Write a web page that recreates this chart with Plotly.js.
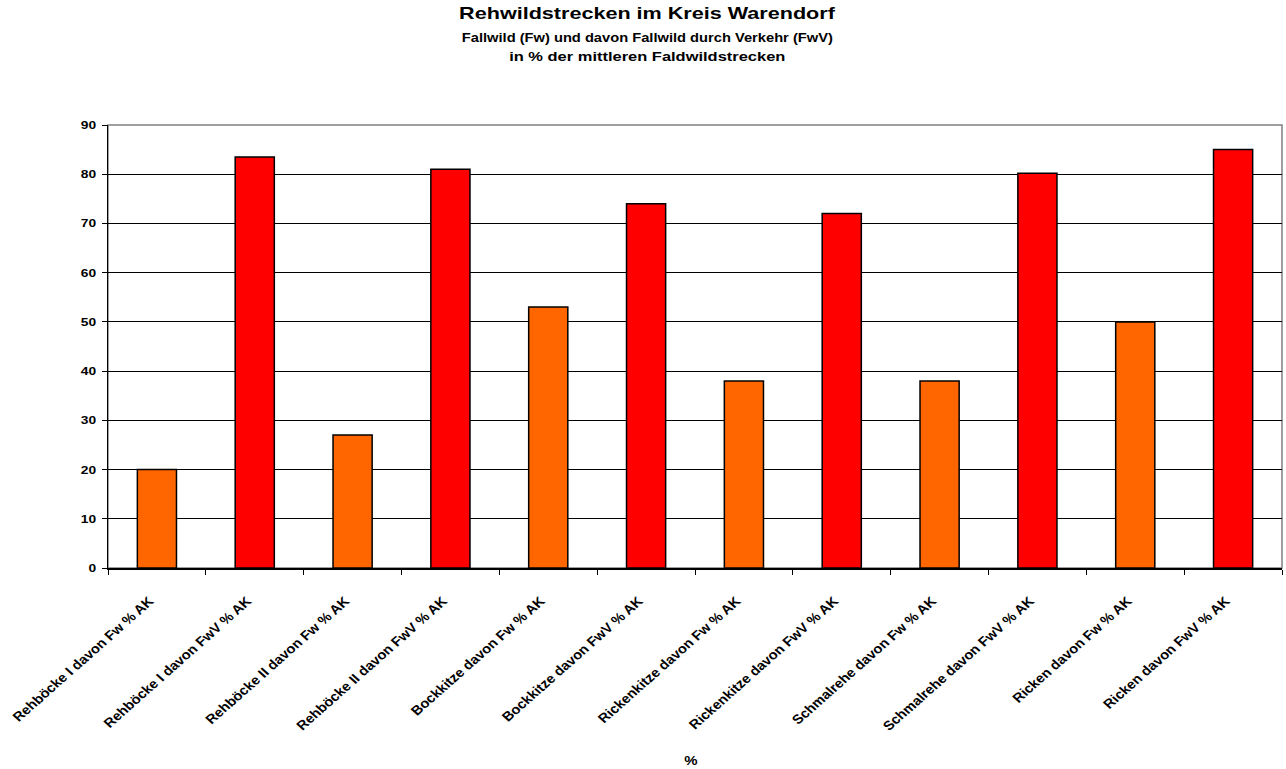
<!DOCTYPE html>
<html>
<head>
<meta charset="utf-8">
<script src="https://cdn.plot.ly/plotly-3.0.1.min.js"></script>
<style>
  html, body { margin: 0; padding: 0; background: #ffffff; }
  #chart { width: 1286px; height: 769px; }
</style>
</head>
<body>
<div id="chart"></div>
<script>
// Kategorien (Altersklassen, jeweils Fallwild und davon Verkehr)
var categories = [
  "Rehböcke I davon Fw % AK",
  "Rehböcke I davon FwV % AK",
  "Rehböcke II davon Fw % AK",
  "Rehböcke II davon FwV % AK",
  "Bockkitze davon Fw % AK",
  "Bockkitze davon FwV % AK",
  "Rickenkitze davon Fw % AK",
  "Rickenkitze davon FwV % AK",
  "Schmalrehe davon Fw % AK",
  "Schmalrehe davon FwV % AK",
  "Ricken davon Fw % AK",
  "Ricken davon FwV % AK"
];

// Anteile in %
var values = [20, 83.5, 27, 81, 53, 74, 38, 72, 38, 80.2, 50, 85];

// Farben: Fallwild orange, Fallwild durch Verkehr rot
var colorFw = "#FF6600";
var colorFwV = "#FF0000";
var barColors = categories.map(function (c) {
  return c.indexOf("FwV") >= 0 ? colorFwV : colorFw;
});

var font = "Liberation Sans, Arial, Helvetica, sans-serif";
var headerX = 647; // horizontale Mitte der Überschriften (px)

var trace = {
  type: "bar",
  x: categories,
  y: values,
  marker: {
    color: barColors,
    line: { color: "#000000", width: 1.5 }
  },
  hoverinfo: "x+y"
};

var layout = {
  width: 1286,
  height: 769,
  margin: { l: 108, r: 4, t: 125, b: 201, pad: 0 },
  paper_bgcolor: "#ffffff",
  plot_bgcolor: "#ffffff",
  showlegend: false,
  bargap: 0.6,
  font: { family: font, color: "#000000" },
  title: {
    text: "<b>Rehwildstrecken im Kreis Warendorf</b>",
    font: { family: font, size: 17, color: "#000000" },
    x: headerX / 1286,
    xanchor: "center",
    xref: "container",
    y: 1 - 7 / 769,
    yanchor: "top",
    yref: "container"
  },
  annotations: [
    {
      text: "<b>Fallwild (Fw) und davon Fallwild durch Verkehr (FwV)</b>",
      xref: "paper", yref: "paper",
      x: (headerX - 108) / 1174, xanchor: "center",
      y: 1 + (125 - 37) / 443, yanchor: "middle",
      showarrow: false,
      font: { family: font, size: 13, color: "#000000" }
    },
    {
      text: "<b>in % der mittleren Faldwildstrecken</b>",
      xref: "paper", yref: "paper",
      x: (headerX - 108) / 1174, xanchor: "center",
      y: 1 + (125 - 56) / 443, yanchor: "middle",
      showarrow: false,
      font: { family: font, size: 13.5, color: "#000000" }
    },
    {
      text: "<b>%</b>",
      xref: "paper", yref: "paper",
      x: (691 - 108) / 1174, xanchor: "center",
      y: -(760 - 568) / 443, yanchor: "middle",
      showarrow: false,
      font: { family: font, size: 13, color: "#000000" }
    }
  ],
  xaxis: {
    type: "category",
    tickangle: -45,
    tickson: "boundaries",
    ticks: "outside",
    ticklen: 5,
    tickcolor: "#000000",
    tickwidth: 1,
    ticklabelstandoff: 19,
    showgrid: false,
    showline: true,
    linecolor: "#000000",
    linewidth: 1.5,
    tickfont: { family: font, size: 13, color: "#000000", weight: "bold" },
    fixedrange: true
  },
  yaxis: {
    range: [0, 90],
    dtick: 10,
    tick0: 0,
    ticks: "outside",
    ticklen: 5,
    tickcolor: "#000000",
    tickwidth: 1,
    ticklabelstandoff: 3,
    showgrid: true,
    gridcolor: "#000000",
    gridwidth: 1,
    zeroline: false,
    showline: true,
    linecolor: "#000000",
    linewidth: 1.5,
    tickfont: { family: font, size: 11.5, color: "#000000", weight: "bold" },
    fixedrange: true
  },
  shapes: [
    {
      type: "rect",
      xref: "paper", yref: "paper",
      x0: 0, x1: 1, y0: 0, y1: 1,
      line: { color: "#808080", width: 1.5 },
      fillcolor: "rgba(0,0,0,0)",
      layer: "below"
    }
  ]
};

// Breitere Schrift: Text horizontal um seinen Ankerpunkt strecken (optional verschieben)
function widen(el, s, dx) {
  var x = parseFloat(el.getAttribute("x")) || 0;
  var y = parseFloat(el.getAttribute("y")) || 0;
  var old = el.getAttribute("transform") || "";
  var px = x, py = y;
  var c = el.transform.baseVal.consolidate();
  if (c) {
    var m = c.matrix;
    px = m.a * x + m.c * y + m.e;
    py = m.b * x + m.d * y + m.f;
  }
  el.setAttribute("transform",
    "translate(" + (px + (dx || 0)) + "," + py + ") scale(" + s + ",1) translate(" + (-px) + "," + (-py) + ") " + old);
}

Plotly.newPlot("chart", [trace], layout, { displayModeBar: false, staticPlot: true }).then(function (gd) {
  var root = gd.querySelector(".main-svg") ? gd : document;
  root.querySelectorAll(".gtitle").forEach(function (el) { widen(el, 1.27); });
  var ann = root.querySelectorAll(".annotation-text");
  if (ann[0]) widen(ann[0], 1.13);
  if (ann[1]) widen(ann[1], 1.22);
  if (ann[2]) widen(ann[2], 1.15);
  root.querySelectorAll(".xtick text").forEach(function (el) { widen(el, 1.13, -7); });
  root.querySelectorAll(".ytick text").forEach(function (el) { widen(el, 1.2); });
});
</script>
</body>
</html>
